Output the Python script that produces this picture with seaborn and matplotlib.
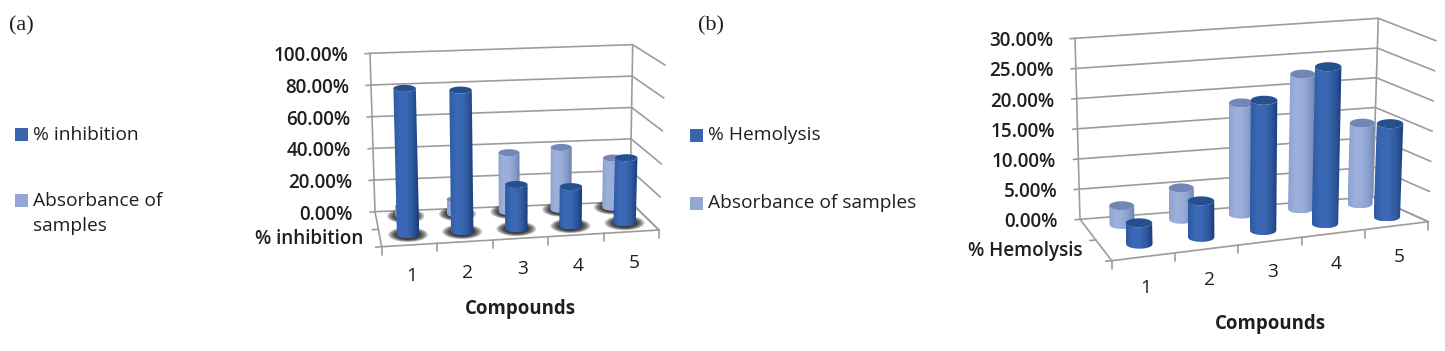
#Recreating the two 3D cylinder charts (inhibition and hemolysis) with a small projection helper.

#Importing libraries.
import itertools
import numpy as np
import matplotlib
matplotlib.use('Agg')
import matplotlib.pyplot as plt
import seaborn as sns
from matplotlib.patches import PathPatch, Rectangle
from matplotlib.path import Path

#Chart values.
compounds = ['1', '2', '3', '4', '5']
inhibition = [0.885, 0.86, 0.27, 0.24, 0.40]
absorbance_a = [0.06, 0.09, 0.37, 0.39, 0.31]
hemolysis = [0.035, 0.06, 0.215, 0.26, 0.155]
absorbance_b = [0.031, 0.052, 0.185, 0.225, 0.135]
ticks_a = [0, 0.2, 0.4, 0.6, 0.8, 1.0]
ticks_b = [0, 0.05, 0.10, 0.15, 0.20, 0.25, 0.30]

sns.set_theme(style='white')
plt.rcParams['font.family'] = ['Open Sans', 'DejaVu Sans']

dark_shades = sns.blend_palette(['#2c5aa3', '#3a68b4', '#3b69b4', '#2f5a9f', '#1c3c78'], as_cmap=True)
light_shades = sns.blend_palette(['#8ea2d0', '#9db0dc', '#9aaddb', '#8a9ecb', '#6d82ae'], as_cmap=True)
gradient = np.linspace(0, 1, 64).reshape(1, -1)
DARK_TOP = '#25508f'
LIGHT_TOP = '#7287b5'
GRID = '#9c9c9c'
TEXT = '#1f1f1f'

fig = plt.figure(figsize=(14.45, 3.51), dpi=100)
ax = fig.add_axes([0, 0, 1, 1])
ax.axis('off')

#Images and patches have different default orders, so every cylinder part gets its own.
layer = itertools.count(1)


#Making a function that maps (across, depth, height) in 0-1 onto the picture.
def make_projection(corners):
    def project(u, d, v):
        bottom = ((1 - u) * (1 - d) * np.array(corners['blb']) + u * (1 - d) * np.array(corners['brb'])
                  + (1 - u) * d * np.array(corners['flb']) + u * d * np.array(corners['frb']))
        top = ((1 - u) * (1 - d) * np.array(corners['blt']) + u * (1 - d) * np.array(corners['brt'])
               + (1 - u) * d * np.array(corners['flt']) + u * d * np.array(corners['frt']))
        return bottom + (top - bottom) * v
    return project


#Drawing one shaded cylinder from its base and top centres.
def draw_cylinder(base, top, radius, minor, shades, top_color, shadow):
    t = np.linspace(0, 2 * np.pi, 60)
    if shadow:
        for k in np.linspace(1.8, 1.05, 10):
            ax.fill(base[0] + radius * k * np.cos(t), base[1] + minor * (k + 0.3) * np.sin(t),
                    color='black', alpha=0.13, lw=0, zorder=next(layer))
    #The body is a horizontal gradient image clipped to the cylinder outline.
    arc = np.linspace(-1, 1, 40)
    curve = np.sqrt(1 - arc ** 2)
    xs = np.concatenate([base[0] + radius * arc, top[0] + radius * arc[::-1]])
    ys = np.concatenate([base[1] + minor * curve, top[1] + minor * curve[::-1]])
    outline = PathPatch(Path(np.column_stack([xs, ys])), transform=ax.transData, fc='none', ec='none')
    ax.add_patch(outline)
    image = ax.imshow(gradient, cmap=shades, aspect='auto', interpolation='bilinear',
                      extent=[min(xs), max(xs), max(ys), min(ys)], zorder=next(layer))
    image.set_clip_path(outline)
    ax.fill(top[0] + radius * np.cos(t), top[1] + minor * np.sin(t), color=top_color, lw=0, zorder=next(layer))


#Drawing one whole panel: walls, floor, tick labels and both rows of cylinders.
def draw_panel(corners, ticks, front_values, back_values, top_value, depth_label, opts):
    project = make_projection(corners)
    for tick in ticks:
        v = tick / top_value
        p0, p1, p2 = project(0, 0, v), project(1, 0, v), project(1, 1, v)
        ax.plot([p0[0] - 5, p0[0], p1[0], p2[0]], [p0[1] + 0.5, p0[1], p1[1], p2[1]], color=GRID, lw=1.2, zorder=0)
        ax.text(p0[0] - 22, p0[1] + 3, f'{tick * 100:.2f}%', ha='right', va='center',
                fontsize=opts['tick_size'], fontweight=600, color=TEXT)
    for a, b in [((0, 0, 0), (0, 0, 1)), ((1, 0, 0), (1, 0, 1)), ((0, 0, 0), (0, 1, 0)),
                 ((0, 1, 0), (1, 1, 0)), ((1, 1, 0), (1, 0, 0))]:
        p, q = project(*a), project(*b)
        ax.plot([p[0], q[0]], [p[1], q[1]], color=GRID, lw=1.2, zorder=0)
    #Depth ticks on the left edge of the floor.
    for d in [0.5, 1]:
        p = project(0, d, 0)
        ax.plot([p[0] - 6, p[0]], [p[1] + 0.5, p[1]], color=GRID, lw=1.2, zorder=0)
    #Category ticks and labels on the front edge.
    for i in range(6):
        p = project(i / 5, 1, 0)
        ax.plot([p[0], p[0]], [p[1], p[1] + 8], color=GRID, lw=1.2, zorder=0)
    for i, name in enumerate(compounds):
        p = project((i + 0.5) / 5, 1, 0)
        ax.text(p[0] + 2.5, p[1] + 31, name, ha='center', va='center',
                fontsize=opts['cat_size'], fontweight=400, color=TEXT)
    p = project(0, opts['front_d'], 0)
    ax.text(p[0] + opts['depth_dx'], p[1] + 2.5, depth_label, ha='right', va='center',
            fontsize=opts['tick_size'], fontweight=600, color=TEXT, zorder=1000)
    ax.text(opts['xlabel_x'], opts['xlabel_y'], 'Compounds', ha='center', va='center',
            fontsize=opts['tick_size'] - 0.2, fontweight=700, color=TEXT)
    #Back row first so the front row overlaps it.
    for values, d, shades, top_color, radius, shift in [
            (back_values, opts['back_d'], light_shades, LIGHT_TOP, opts['radius'] - 0.7, opts['back_shift']),
            (front_values, opts['front_d'], dark_shades, DARK_TOP, opts['radius'], opts['front_shift'])]:
        for i, value in enumerate(values):
            u = (i + 0.5) / 5 + shift
            draw_cylinder(project(u, d, 0), project(u, d, value / top_value), radius, opts['minor'],
                          shades, top_color, opts['shadow'])


#Drawing the legend squares and their text.
def draw_legend(x, entries):
    for y, text_y, color, label in entries:
        ax.add_patch(Rectangle((x, y - 6.5), 13, 13, color=color, lw=0))
        ax.text(x + 18, text_y, label, ha='left', va='center', fontsize=13.8, fontweight=400,
                color=TEXT, linespacing=1.55)


corners_a = {'blb': (375, 211.7), 'blt': (370, 53.3), 'brb': (630, 201.7), 'brt': (632.7, 44.7),
             'frb': (659, 230), 'frt': (665, 65), 'flb': (381.7, 246.7), 'flt': (376.7, 78)}
corners_b = {'blb': (1080, 219.3), 'blt': (1075, 38.3), 'brb': (1372.7, 196.7), 'brt': (1378.3, 18.3),
             'frb': (1428.3, 221.7), 'frt': (1436, 40.7), 'flb': (1111.7, 260.7), 'flt': (1107, 76)}

draw_panel(corners_a, ticks_a, inhibition, absorbance_a, 1.0, '% inhibition',
           {'tick_size': 13.6, 'cat_size': 13.8, 'front_d': 0.7, 'back_d': 0.16, 'radius': 11.2, 'minor': 3.5,
            'front_shift': 0.005, 'back_shift': 0.015, 'shadow': True, 'depth_dx': -16.5,
            'xlabel_x': 520, 'xlabel_y': 309})
draw_panel(corners_b, ticks_b, hemolysis, absorbance_b, 0.30, '% Hemolysis',
           {'tick_size': 13.6, 'cat_size': 13.8, 'front_d': 0.7, 'back_d': 0.2, 'radius': 13.2, 'minor': 4.5,
            'front_shift': 0.02, 'back_shift': 0.02, 'shadow': False, 'depth_dx': -20,
            'xlabel_x': 1270.7, 'xlabel_y': 324})

draw_legend(15, [(134.5, 134.5, '#3a65ad', '% inhibition'), (200, 213.5, '#94a7d5', 'Absorbance of\nsamples')])
draw_legend(690, [(135, 135, '#3a65ad', '% Hemolysis'), (203, 203, '#94a7d5', 'Absorbance of samples')])

ax.text(9, 26, '(a)', ha='left', va='center', fontsize=16, family='Liberation Serif', color=TEXT)
ax.text(698, 26, '(b)', ha='left', va='center', fontsize=16, family='Liberation Serif', color=TEXT)

ax.set_xlim(0, 1445)
ax.set_ylim(351, 0)
plt.savefig('out.png', dpi=100)
